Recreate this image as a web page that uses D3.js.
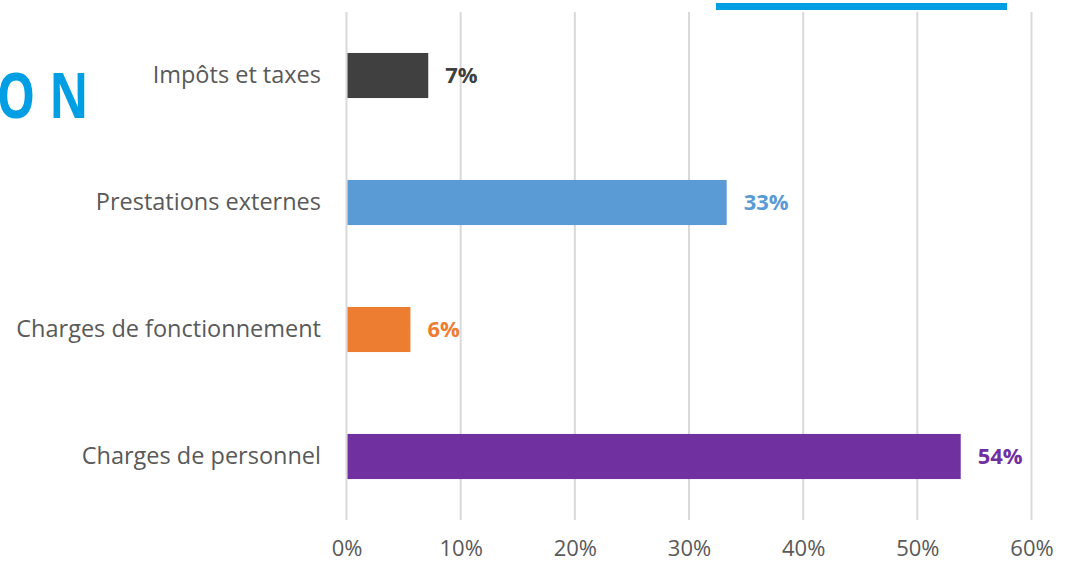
<!DOCTYPE html>
<html><head><meta charset="utf-8">
<script src="https://cdn.jsdelivr.net/npm/d3@7"></script>
<style>body{margin:0;background:#fff}svg{display:block}</style>
</head><body><svg id="c" width="1070" height="569"></svg>
<script>
const categories = ["Impôts et taxes", "Prestations externes", "Charges de fonctionnement", "Charges de personnel"];
const values = [7.16, 33.3, 5.6, 53.8];
const valueLabels = ["7%", "33%", "6%", "54%"];
const colors = ["#404040", "#5B9BD5", "#ED7D31", "#7030A0"];
const ticks = [0, 10, 20, 30, 40, 50, 60];

const svg = d3.select("#c");
const x = d3.scaleLinear().domain([0, 60]).range([346.5, 1031.5]);
const y = d3.scaleBand().domain(categories).range([12, 520]).paddingInner(0.645).paddingOuter(0.3225);
const font = "'Open Sans', 'Liberation Sans', sans-serif";

// top blue rule and cropped title
svg.append("rect").attr("x", 716).attr("y", 3).attr("width", 291).attr("height", 7).attr("fill", "#009FE3");
svg.append("g").attr("transform", "translate(87,118) scale(0.78,1)")
  .append("text").attr("x", 20).attr("y", 0).attr("text-anchor", "end")
  .attr("font-family", font).attr("font-weight", 700)
  .attr("font-size", 62).attr("letter-spacing", 18).attr("fill", "#009FE3").text("ON");

// gridlines
svg.append("g").selectAll("line").data(ticks).join("line")
  .attr("x1", d => x(d)).attr("x2", d => x(d)).attr("y1", 12).attr("y2", 520)
  .attr("stroke", "#d9d9d9").attr("stroke-width", 2);

// x axis tick labels
const xAxis = d3.axisBottom(x).tickValues(ticks).tickFormat(d => d + "%").tickSize(0).tickPadding(0);
const gx = svg.append("g").attr("transform", "translate(0,540)").call(xAxis);
gx.select(".domain").remove();
gx.selectAll("text").attr("font-family", font).attr("font-size", 22).attr("fill", "#595959");

// y axis category labels
const yAxis = d3.axisLeft(y).tickSize(0).tickPadding(0);
const gy = svg.append("g").attr("transform", "translate(321,0)").call(yAxis);
gy.select(".domain").remove();
gy.selectAll("text").attr("font-family", font).attr("font-size", 23.5).attr("fill", "#595959");

// bars
const data = categories.map((c, i) => ({c, v: values[i], l: valueLabels[i], col: colors[i]}));
svg.append("g").selectAll("rect").data(data).join("rect")
  .attr("x", x(0) + 1).attr("y", d => y(d.c)).attr("width", d => x(d.v) - x(0) - 1)
  .attr("height", y.bandwidth()).attr("fill", d => d.col);

svg.append("g").selectAll("text").data(data).join("text")
  .attr("x", d => x(d.v) + 17).attr("y", d => y(d.c) + y.bandwidth() / 2).attr("dy", "0.35em")
  .attr("font-family", font).attr("font-weight", 700).attr("font-size", 22)
  .attr("fill", d => d.col).text(d => d.l);
</script></body></html>
